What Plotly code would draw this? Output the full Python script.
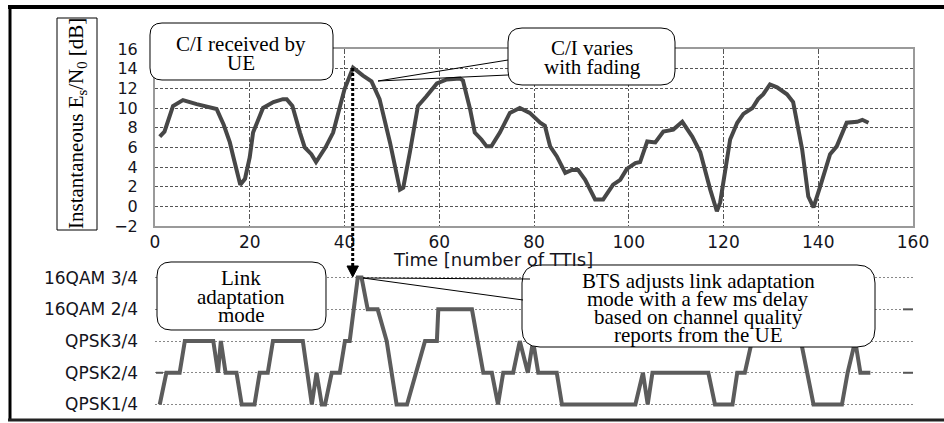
import plotly.graph_objects as go

# ---------------- data ----------------
ci_tti = [1, 2, 3.8, 5.9, 8.8, 11.6, 13, 14.5, 15.8, 16.5, 18, 19, 20, 20.7, 22.8, 25, 27, 27.8, 29,
          30.6, 31.6, 33, 34, 36, 37.6, 40, 41.8, 43.9, 45.7, 47.4, 49.6, 51.7, 52.4, 53.8, 55.5,
          57.3, 59.5, 61.6, 64.4, 65, 66.5, 67.5, 68.9, 70, 71, 72.8, 74.9, 77, 79.1, 81.3, 82.3,
          83.4, 84.8, 86.6, 88, 89.3, 90.8, 92.9, 94.6, 96.7, 98.2, 99.6, 101.4, 102.4, 103.9,
          105.6, 107.3, 109.4, 111.3, 113.4, 115.1, 117.2, 118.6, 119.3, 121.4, 122.9, 124.2,
          126.1, 127.3, 128.4, 129.8, 131.3, 133.4, 134.7, 136.6, 137.9, 139, 140.4, 142.5, 143.9,
          146, 148.2, 149.3, 150.6]
ci_db = [7.1, 7.6, 10.2, 10.8, 10.4, 10.1, 9.9, 8.3, 6.5, 5.1, 2.2, 2.8, 5.0, 7.5, 10.0, 10.6, 10.9,
         10.9, 10.2, 7.5, 6.0, 5.3, 4.5, 6.0, 7.5, 11.9, 14.1, 13.3, 12.7, 10.9, 6.5, 1.7, 1.9, 5.5,
         10.2, 11.2, 12.5, 12.9, 13.0, 12.8, 9.9, 7.5, 6.8, 6.1, 6.1, 7.5, 9.5, 10.0, 9.5, 8.5, 8.2,
         6.1, 5.1, 3.4, 3.7, 3.7, 2.7, 0.7, 0.7, 2.2, 2.7, 3.8, 4.4, 4.5, 6.6, 6.5, 7.6, 7.8, 8.6,
         7.1, 5.5, 1.7, -0.5, 0.4, 6.8, 8.5, 9.4, 10.0, 10.9, 11.4, 12.4, 12.1, 11.4, 10.6, 5.8,
         1.0, -0.1, 2.0, 5.3, 6.1, 8.5, 8.6, 8.8, 8.5]

la_tti = [1, 2.4, 5.2, 6.3, 12.3, 13.3, 13.9, 14.9, 17.2, 18.3, 21, 22.1, 23.8, 24.9, 31.2, 33.1,
          34.1, 35.2, 35.9, 37.3, 39, 40.1, 41.1, 42.8, 43.6, 44.9, 47, 48.9, 51, 53.2, 57, 59.5,
          59.8, 66.9, 69.3, 71.1, 72.4, 73.5, 75.6, 77, 78.7, 79.8, 80.9, 84.8, 85.9, 101.4, 103,
          104, 105, 116.8, 118.2, 121.9, 122.9, 124.5, 127.5, 135, 139, 145, 146.2, 147.8, 148.9,
          151]
la_level = [0, 1, 1, 2, 2, 1, 2, 1, 1, 0, 0, 1, 1, 2, 2, 0,
            1, 0, 0, 1, 1, 2, 2, 4, 4, 3, 3, 2, 0, 0, 2, 2,
            3, 3, 1, 1, 0, 1, 1, 2, 1, 2, 1, 1, 0, 0, 1,
            0, 1, 1, 0, 0, 1, 1, 3, 3, 0, 0, 1, 2, 1,
            1]
la_labels = ["QPSK1/4", "QPSK2/4", "QPSK3/4", "16QAM 2/4", "16QAM 3/4"]
x_ticks = list(range(0, 161, 20))
y_ticks = list(range(-2, 17, 2))

# ---------------- geometry helpers ----------------
W, H = 944, 423
ML, MR, MT, MB = 155, 31, 49, 9
PW = W - ML - MR
PH = H - MT - MB


def px(x):
    return (x - ML) / PW


def py(y):
    return (H - MB - y) / PH


def pt(x, y):
    return f"{px(x):.5f},{py(y):.5f}"


def rbox(x0, y0, x1, y1, r):
    return (f"M {pt(x0 + r, y0)} L {pt(x1 - r, y0)} Q {pt(x1, y0)} {pt(x1, y0 + r)} "
            f"L {pt(x1, y1 - r)} Q {pt(x1, y1)} {pt(x1 - r, y1)} L {pt(x0 + r, y1)} "
            f"Q {pt(x0, y1)} {pt(x0, y1 - r)} L {pt(x0, y0 + r)} Q {pt(x0, y0)} {pt(x0 + r, y0)} Z")


fig = go.Figure()
fig.add_trace(go.Scatter(x=ci_tti, y=ci_db, mode="lines", xaxis="x", yaxis="y",
                         line=dict(color="#474747", width=4), showlegend=False))
fig.add_trace(go.Scatter(x=la_tti, y=la_level, mode="lines", xaxis="x2", yaxis="y2",
                         line=dict(color="#5c5c5c", width=4), showlegend=False))

tickfont = dict(family="DejaVu Sans", size=17, color="#141420")
fig.update_layout(
    width=W, height=H, margin=dict(l=ML, r=MR, t=MT, b=MB),
    paper_bgcolor="white", plot_bgcolor="white",
    xaxis=dict(domain=[0, 1], anchor="y", range=[0, 160], tickvals=x_ticks, ticks="",
               showgrid=True, gridcolor="#555", gridwidth=1, griddash="5px,2px,2px,2px",
               showline=True, mirror=True, linecolor="#9a9a9a", linewidth=2,
               zeroline=False, tickfont=tickfont, automargin=False),
    yaxis=dict(domain=[py(226), 1], anchor="x", range=[-2, 16], tickvals=y_ticks, ticks="",
               showgrid=True, gridcolor="#555", gridwidth=1, griddash="3px,2px",
               showline=True, mirror=True, linecolor="#9a9a9a", linewidth=2,
               zeroline=False, tickfont=dict(family="DejaVu Sans", size=16, color="#141420"),
               ticklabelstandoff=12, automargin=False),
    xaxis2=dict(domain=[0, 1], anchor="y2", range=[0, 160], visible=False, automargin=False),
    yaxis2=dict(domain=[0, py(268.1)], anchor="x2", range=[-0.3, 4.3],
                tickvals=[0, 1, 2, 3, 4], ticktext=la_labels, ticks="",
                showgrid=True, gridcolor="#888", gridwidth=1, griddash="2px,2px",
                showline=False, zeroline=False,
                tickfont=dict(family="DejaVu Sans", size=17, color="#141420"),
                ticklabelstandoff=16, automargin=False),
)

shapes = []
line_k = dict(color="black", width=1)
# outer frame
shapes.append(dict(type="line", xref="paper", yref="paper", x0=px(8), x1=px(944), y0=py(7), y1=py(7),
                   line=dict(color="black", width=4)))
shapes.append(dict(type="line", xref="paper", yref="paper", x0=px(10), x1=px(10), y0=py(5), y1=py(420),
                   line=dict(color="black", width=3)))
shapes.append(dict(type="line", xref="paper", yref="paper", x0=px(8), x1=px(944), y0=py(420), y1=py(420),
                   line=dict(color="#222", width=3)))
# small axis marks of the mode panel
for lvl in (1, 3):
    shapes.append(dict(type="line", xref="paper", yref="y2", x0=px(903), x1=px(913), y0=lvl, y1=lvl,
                       line=dict(color="#555", width=2)))
shapes.append(dict(type="line", xref="paper", yref="y2", x0=px(156), x1=px(163), y0=1, y1=1,
                   line=dict(color="#555", width=2)))
# y-title box
shapes.append(dict(type="rect", xref="paper", yref="paper", x0=px(57), x1=px(97), y0=py(18), y1=py(230),
                   line=line_k, fillcolor="white"))
# callout boxes
shapes.append(dict(type="path", xref="paper", yref="paper", path=rbox(150, 23, 333, 80, 12),
                   line=line_k, fillcolor="white", layer="above"))
shapes.append(dict(type="path", xref="paper", yref="paper",
                   path=f"M {pt(508, 60)} L {pt(378, 81)} L {pt(508, 75)}", line=line_k))
shapes.append(dict(type="path", xref="paper", yref="paper", path=rbox(508, 28, 675, 85, 14),
                   line=line_k, fillcolor="white", layer="above"))
shapes.append(dict(type="path", xref="paper", yref="paper", path=rbox(157, 262, 326, 330, 14),
                   line=line_k, fillcolor="white", layer="above"))
shapes.append(dict(type="path", xref="paper", yref="paper", path=rbox(522, 265, 875, 347, 18),
                   line=line_k, fillcolor="white", layer="above"))
shapes.append(dict(type="path", xref="paper", yref="paper",
                   path=f"M {pt(530, 279)} L {pt(363, 278)} L {pt(523, 300)}", line=line_k))
# dotted arrow
shapes.append(dict(type="line", xref="paper", yref="paper", x0=px(352.7), x1=px(352.7),
                   y0=py(68), y1=py(268), line=dict(color="black", width=3, dash="3px,2px")))
shapes.append(dict(type="path", xref="paper", yref="paper",
                   path=f"M {pt(347, 266)} L {pt(358.4, 266)} L {pt(352.7, 277)} Z",
                   line=dict(color="black", width=1), fillcolor="black"))
fig.update_layout(shapes=shapes)

ann = []
serif = dict(family="Liberation Serif", size=21, color="black")


def txt(x, y, s, font=serif, **kw):
    ann.append(dict(xref="paper", yref="paper", x=px(x), y=py(y), text=s, showarrow=False,
                    xanchor="center", yanchor="middle", font=font, **kw))


txt(77, 124, "Instantaneous E<sub>s</sub>/N<sub>0</sub> [dB]",
    font=dict(family="Liberation Serif", size=21, color="black"), textangle=-90)
txt(493, 259, "Time [number of TTIs]", font=dict(family="DejaVu Sans", size=18, color="#141420"))
txt(241, 44, "C/I received by")
txt(241, 63, "UE")
txt(592, 48, "C/I varies")
txt(592, 67, "with fading")
txt(241, 278, "Link")
txt(241, 297, "adaptation")
txt(241, 315, "mode")
txt(698, 281, "BTS adjusts link adaptation")
txt(698, 299, "mode with a few ms delay")
txt(698, 317, "based on channel quality")
txt(698, 335, "reports from the UE")
fig.update_layout(annotations=ann)

fig.write_html("out.html", config={"displayModeBar": False},
               post_script="document.body.style.margin='0px';document.body.style.overflow='hidden';")
